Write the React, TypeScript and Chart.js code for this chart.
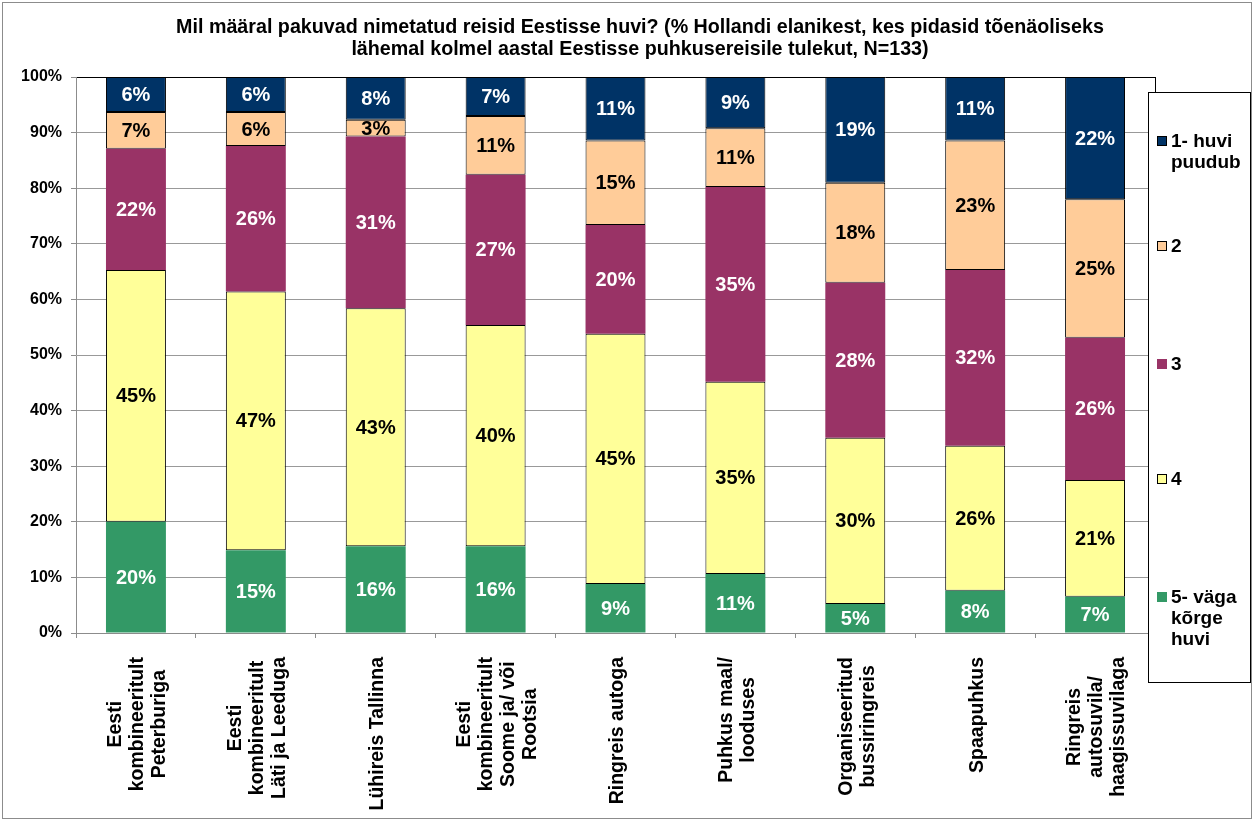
import React, { useEffect, useRef } from "react";
import { Chart, registerables } from "chart.js";

Chart.register(...registerables);

const titleLines = [
  "Mil määral pakuvad nimetatud reisid Eestisse huvi? (% Hollandi elanikest, kes pidasid tõenäoliseks",
  "lähemal kolmel aastal Eestisse puhkusereisile tulekut, N=133)",
];

const categories: string[][] = [
  ["Eesti", "kombineeritult", "Peterburiga"],
  ["Eesti", "kombineeritult", "Läti ja Leeduga"],
  ["Lühireis Tallinna"],
  ["Eesti", "kombineeritult", "Soome ja/ või", "Rootsia"],
  ["Ringreis autoga"],
  ["Puhkus maal/", "looduses"],
  ["Organiseeritud", "bussiringreis"],
  ["Spaapuhkus"],
  ["Ringreis", "autosuvila/", "haagissuvilaga"],
];

// bottom to top of the stack
const seriesLabels = ["5- väga kõrge huvi", "4", "3", "2", "1- huvi puudub"];
const legendLines: string[][] = [["5- väga", "kõrge", "huvi"], ["4"], ["3"], ["2"], ["1- huvi", "puudub"]];

const values5 = [20.0, 14.9, 15.6, 15.6, 8.8, 10.6, 5.2, 7.6, 6.5];
const values4 = [45.3, 46.5, 42.8, 39.8, 45.0, 34.6, 29.9, 26.1, 21.0];
const values3 = [21.8, 26.2, 30.9, 27.0, 19.6, 35.0, 27.9, 31.6, 25.6];
const values2 = [6.6, 6.1, 3.0, 10.6, 15.2, 10.6, 18.0, 23.3, 24.9];
const values1 = [6.3, 6.3, 7.7, 7.0, 11.4, 9.2, 19.0, 11.4, 22.0];

const yMin = 0;
const yMax = 100;
const yStep = 10;

const fillColors = ["#339966", "#FFFF99", "#993366", "#FFCC99", "#003366"];
const borderColors = ["#339966", "#000000", "#993366", "#000000", "#000000"];
const borderWidths = [0, 1, 0, 1, 1];
const labelColors = ["#FFFFFF", "#000000", "#FFFFFF", "#000000", "#FFFFFF"];

const FONT = "'Liberation Sans', Arial, Helvetica, sans-serif";

const decorPlugin = {
  id: "decor",
  beforeDraw(chart: any) {
    const ctx = chart.ctx;
    ctx.save();
    ctx.fillStyle = "#ffffff";
    ctx.fillRect(0, 0, chart.width, chart.height);
    ctx.restore();
  },
  afterDatasetsDraw(chart: any) {
    const ctx = chart.ctx;
    ctx.save();
    ctx.font = `bold 20px ${FONT}`;
    ctx.textAlign = "center";
    ctx.textBaseline = "middle";
    chart.data.datasets.forEach((ds: any, di: number) => {
      const meta = chart.getDatasetMeta(di);
      meta.data.forEach((el: any, i: number) => {
        const p = el.getProps(["x", "y", "base"], true);
        const v = ds.data[i];
        ctx.fillStyle = labelColors[di];
        ctx.fillText(Math.round(v) + "%", p.x, (p.y + p.base) / 2 + 1);
      });
    });
    ctx.restore();
  },
  afterDraw(chart: any) {
    const ctx = chart.ctx;
    const area = chart.chartArea;
    ctx.save();

    // plot area frame (right)
    ctx.strokeStyle = "#000000";
    ctx.lineWidth = 1;
    ctx.beginPath();
    ctx.moveTo(area.right + 0.5, area.top);
    ctx.lineTo(area.right + 0.5, area.bottom);
    ctx.stroke();

    // category labels, rotated
    const xs = chart.scales.x;
    ctx.font = `bold 19.5px ${FONT}`;
    ctx.fillStyle = "#000000";
    ctx.textAlign = "center";
    ctx.textBaseline = "middle";
    const lh = 22;
    categories.forEach((lines, i) => {
      const x = xs.getPixelForValue(i);
      const maxW = Math.max(...lines.map((l) => ctx.measureText(l).width));
      ctx.save();
      ctx.translate(x + 2, area.bottom + 24);
      ctx.rotate(-Math.PI / 2);
      lines.forEach((l, j) => {
        ctx.fillText(l, -maxW / 2, (j - (lines.length - 1) / 2) * lh);
      });
      ctx.restore();
    });

    // legend box
    const bx1 = 1148, by1 = 92, bx2 = 1251, by2 = 683;
    ctx.fillStyle = "#ffffff";
    ctx.fillRect(bx1, by1, bx2 - bx1, by2 - by1);
    ctx.strokeStyle = "#000000";
    ctx.strokeRect(bx1 + 0.5, by1 + 0.5, bx2 - bx1 - 1, by2 - by1 - 1);
    const entryY = [141, 246, 364, 479, 597]; // top to bottom
    ctx.font = `bold 19px ${FONT}`;
    ctx.textAlign = "left";
    ctx.textBaseline = "middle";
    const n = chart.data.datasets.length;
    for (let k = 0; k < n; k++) {
      const di = n - 1 - k;
      const y = entryY[k];
      ctx.fillStyle = fillColors[di];
      ctx.fillRect(1157, y - 5, 10, 10);
      if (borderWidths[di] > 0) {
        ctx.strokeStyle = "#000000";
        ctx.strokeRect(1157.5, y - 4.5, 9, 9);
      }
      ctx.fillStyle = "#000000";
      legendLines[di].forEach((l, j) => {
        ctx.fillText(l, 1171, y + j * 21 + 1);
      });
    }

    // title
    ctx.font = `bold 19.7px ${FONT}`;
    ctx.textAlign = "center";
    ctx.fillStyle = "#000000";
    ctx.fillText(titleLines[0], 640, 28);
    ctx.fillText(titleLines[1], 640, 50);

    // outer border
    ctx.strokeStyle = "#8c8c8c";
    ctx.lineWidth = 1;
    ctx.strokeRect(2.5, 2.5, chart.width - 5, chart.height - 5);
    ctx.restore();
  },
};

export default function App() {
  const ref = useRef<HTMLCanvasElement | null>(null);
  useEffect(() => {
    if (!ref.current) return;
    const series = [values5, values4, values3, values2, values1];
    const chart = new Chart(ref.current, {
      type: "bar",
      data: {
        labels: categories.map((c) => c.join(" ")),
        datasets: series.map((d, i) => ({
          label: seriesLabels[i],
          data: d,
          backgroundColor: fillColors[i],
          borderColor: borderColors[i],
          borderWidth: borderWidths[i],
          borderSkipped: false,
          barPercentage: 0.5,
          categoryPercentage: 1.0,
        })),
      },
      options: {
        animation: false,
        responsive: false,
        maintainAspectRatio: false,
        devicePixelRatio: 1,
        layout: { padding: { top: 77, right: 99, left: 0, bottom: 0 } },
        plugins: {
          legend: { display: false },
          title: { display: false },
          tooltip: { enabled: false },
        },
        scales: {
          x: {
            stacked: true,
            offset: true,
            grid: {
              display: true,
              drawOnChartArea: false,
              drawTicks: true,
              tickLength: 5,
              color: "#8c8c8c",
              offset: true,
            },
            border: { color: "#8c8c8c", width: 1 },
            ticks: { display: false },
            afterFit: (s: any) => {
              s.height = 188;
            },
          },
          y: {
            stacked: true,
            min: yMin,
            max: yMax,
            grid: {
              color: (c: any) => (c.tick && c.tick.value === yMax ? "#000000" : "#999999"),
              tickColor: "#8c8c8c",
              tickLength: 5,
              lineWidth: 1,
            },
            border: { color: "#8c8c8c", width: 1 },
            ticks: {
              stepSize: yStep,
              padding: 9,
              color: "#000000",
              font: { family: FONT, size: 16, weight: "bold" },
              callback: (v: any) => v + "%",
            },
            afterFit: (s: any) => {
              s.width = 76;
            },
          },
        },
      },
      plugins: [decorPlugin],
    });
    return () => chart.destroy();
  }, []);
  return (
    <div style={{ position: "fixed", left: 0, top: 0, width: 1254, height: 821, background: "#fff" }}>
      <canvas ref={ref} width={1254} height={821} style={{ display: "block" }} />
    </div>
  );
}
